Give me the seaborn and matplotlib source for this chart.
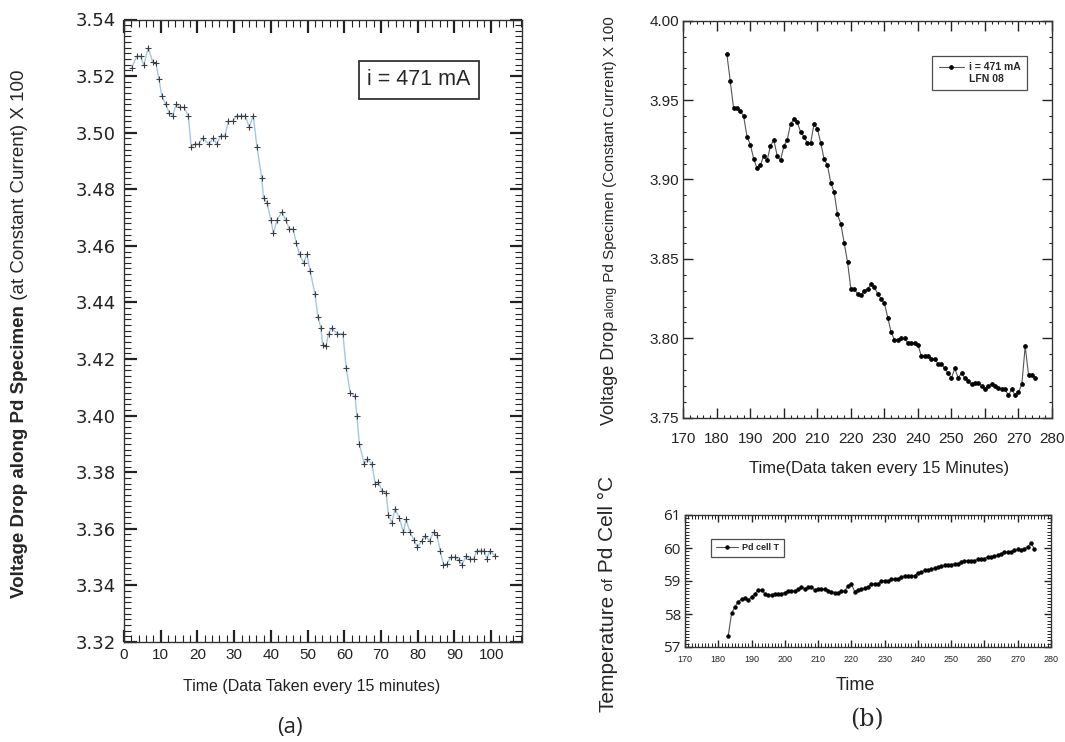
import matplotlib
matplotlib.use("Agg")
import matplotlib.pyplot as plt
from matplotlib.ticker import MultipleLocator, FormatStrFormatter
from matplotlib.lines import Line2D
import seaborn as sns

# ---- (a) voltage drop, run 1 ----
time_a = [2.1, 3.5, 4.5, 5.4, 6.6, 7.8, 8.7, 9.5, 10.3, 11.4,
          12.3, 13.3, 14.2, 15.3, 16.3, 17.5, 18.3, 19.3, 20.3, 21.4,
          23.2, 24.2, 25.3, 26.3, 27.5, 28.4, 29.6, 30.7, 31.8, 33.0,
          34.1, 35.2, 36.2, 37.5, 38.0, 39.0, 40.0, 40.7, 41.6, 43.0,
          44.1, 45.0, 46.1, 46.9, 47.8, 48.9, 49.8, 50.7, 52.0, 52.8,
          53.6, 54.1, 55.0, 55.7, 56.6, 58.0, 59.6, 60.5, 61.6, 62.9,
          63.4, 64.1, 65.4, 66.3, 67.5, 68.4, 69.3, 70.2, 71.4, 72.0,
          72.9, 73.8, 75.0, 76.1, 76.8, 77.9, 79.0, 79.9, 81.1, 82.0,
          83.2, 84.3, 85.2, 86.1, 87.0, 87.9, 89.0, 90.2, 91.1, 92.0,
          93.2, 94.3, 95.2, 96.1, 97.2, 98.1, 98.8, 99.7, 101.1]
volt_a = [3.523, 3.527, 3.527, 3.524, 3.530, 3.525, 3.5245, 3.519, 3.513, 3.510,
          3.507, 3.506, 3.510, 3.509, 3.509, 3.506, 3.495, 3.496, 3.496, 3.498,
          3.496, 3.498, 3.496, 3.499, 3.499, 3.504, 3.504, 3.506, 3.506, 3.506,
          3.502, 3.506, 3.495, 3.484, 3.477, 3.475, 3.469, 3.4645, 3.469, 3.472,
          3.469, 3.466, 3.466, 3.461, 3.457, 3.454, 3.457, 3.451, 3.443, 3.435,
          3.431, 3.425, 3.4246, 3.429, 3.431, 3.429, 3.429, 3.417, 3.408, 3.407,
          3.400, 3.390, 3.383, 3.3845, 3.383, 3.376, 3.3767, 3.3735, 3.3726, 3.365,
          3.362, 3.367, 3.3638, 3.3587, 3.3634, 3.3587, 3.356, 3.3535, 3.3558, 3.3575,
          3.3558, 3.3587, 3.3578, 3.3523, 3.3473, 3.3476, 3.350, 3.350, 3.3491, 3.3473,
          3.3503, 3.3494, 3.3494, 3.3523, 3.3523, 3.3523, 3.3494, 3.3523, 3.3503]

# ---- (b) voltage drop and cell temperature, LFN 08 ----
time_b = list(range(183, 276))
volt_b = [3.979, 3.962, 3.945, 3.945, 3.943, 3.940, 3.927, 3.922, 3.913, 3.907,
          3.909, 3.915, 3.912, 3.921, 3.925, 3.915, 3.912, 3.921, 3.925, 3.935,
          3.938, 3.936, 3.930, 3.927, 3.923, 3.923, 3.935, 3.932, 3.923, 3.913,
          3.909, 3.898, 3.892, 3.878, 3.872, 3.860, 3.848, 3.831, 3.831, 3.828,
          3.827, 3.830, 3.831, 3.834, 3.832, 3.828, 3.825, 3.822, 3.813, 3.804,
          3.799, 3.799, 3.800, 3.800, 3.797, 3.797, 3.797, 3.796, 3.789, 3.789,
          3.789, 3.787, 3.787, 3.784, 3.784, 3.781, 3.778, 3.775, 3.781, 3.775,
          3.778, 3.775, 3.773, 3.771, 3.772, 3.772, 3.770, 3.768, 3.770, 3.771,
          3.770, 3.769, 3.768, 3.768, 3.764, 3.768, 3.764, 3.766, 3.771, 3.795,
          3.777, 3.777, 3.775]
temp_b = [57.34, 58.02, 58.22, 58.37, 58.45, 58.48, 58.41, 58.53, 58.62, 58.72,
          58.72, 58.62, 58.57, 58.57, 58.62, 58.62, 58.62, 58.65, 58.70, 58.70,
          58.70, 58.75, 58.82, 58.77, 58.82, 58.82, 58.72, 58.75, 58.75, 58.75,
          58.70, 58.68, 58.65, 58.65, 58.70, 58.70, 58.86, 58.91, 58.68, 58.74,
          58.75, 58.78, 58.81, 58.91, 58.91, 58.91, 59.01, 59.01, 58.99, 59.06,
          59.06, 59.06, 59.11, 59.16, 59.16, 59.16, 59.16, 59.25, 59.27, 59.32,
          59.32, 59.37, 59.39, 59.42, 59.44, 59.47, 59.50, 59.50, 59.52, 59.52,
          59.57, 59.62, 59.62, 59.62, 59.62, 59.66, 59.68, 59.68, 59.73, 59.73,
          59.76, 59.78, 59.83, 59.88, 59.88, 59.88, 59.93, 59.96, 59.93, 59.98,
          60.04, 60.14, 59.98]

W, H = 1065, 742


def px_rect(left, top, right, bottom):
    return [left / W, 1 - bottom / H, (right - left) / W, (bottom - top) / H]


def vertical_label(fig, x_px, y_px, parts):
    # chain rotated text pieces bottom-to-top on a common baseline
    renderer = fig.canvas.get_renderer()
    x = x_px / W
    y = 1 - y_px / H
    for txt, kw in parts:
        t = fig.text(x, y, txt, rotation=90, rotation_mode="anchor",
                     ha="left", va="baseline", **kw)
        bb = t.get_window_extent(renderer)
        y += bb.height / fig.bbox.height


sns.set_style("ticks")
plt.rcParams["font.family"] = ["Liberation Sans", "DejaVu Sans"]

fig = plt.figure(figsize=(W / 100, H / 100), dpi=100)

# ---------------- (a) ----------------
ax1 = fig.add_axes(px_rect(124, 19.5, 521.7, 642))
sns.lineplot(x=time_a, y=volt_a, ax=ax1, color="#a3c6e8", lw=1.0,
             marker="+", markersize=5, markeredgecolor="#3c3c3c",
             markeredgewidth=0.8, estimator=None, sort=False)
ax1.set_xlim(0, 108.3)
ax1.set_ylim(3.32, 3.54)
ax1.xaxis.set_major_locator(MultipleLocator(10))
ax1.xaxis.set_minor_locator(MultipleLocator(2))
ax1.yaxis.set_major_locator(MultipleLocator(0.02))
ax1.yaxis.set_minor_locator(MultipleLocator(0.002))
ax1.yaxis.set_major_formatter(FormatStrFormatter("%.2f"))
ax1.tick_params(which="both", direction="in", top=True, right=True, colors="#222")
ax1.tick_params(which="major", length=9, width=1.6)
ax1.tick_params(which="minor", length=5, width=0.8)
ax1.tick_params(axis="y", labelsize=13, pad=6)
ax1.tick_params(axis="x", labelsize=11, pad=4)
for lab in ax1.get_yticklabels():
    lab.set_family("DejaVu Sans")
for sp in ax1.spines.values():
    sp.set_linewidth(1.0)
    sp.set_color("#333")
ax1.set_xlabel("")
ax1.set_ylabel("")
ax1.text(0.742, 0.903, "i = 471 mA", transform=ax1.transAxes, fontsize=15.5,
         ha="center", va="center",
         bbox=dict(boxstyle="square,pad=0.4", fc="white", ec="#333", lw=1.3))
fig.text(312 / W, 1 - 686 / H, "Time (Data Taken every 15 minutes)",
         fontsize=11.5, ha="center", va="center", color="#222")
narrow = ["Liberation Sans Narrow", "Liberation Sans"]
vertical_label(fig, 24, 598, [
    ("Voltage Drop along Pd Specimen",
     dict(fontsize=13.5, fontweight="bold", family=narrow)),
    (" (at Constant Current) X 100", dict(fontsize=13.5, family=narrow)),
])
fig.text(290 / W, 1 - 727 / H, "(a)", fontsize=16, ha="center", va="center",
         family=["Open Sans", "DejaVu Sans"])

# ---------------- (b) top ----------------
ax2 = fig.add_axes(px_rect(683.3, 20.7, 1052, 417.7))
sns.lineplot(x=time_b, y=volt_b, ax=ax2, color="#555", lw=0.8,
             marker="o", markersize=2.6, markerfacecolor="black",
             markeredgecolor="black", estimator=None, sort=False,
             label="i = 471 mA")
ax2.set_xlim(170, 280)
ax2.set_ylim(3.75, 4.00)
ax2.xaxis.set_major_locator(MultipleLocator(10))
ax2.xaxis.set_minor_locator(MultipleLocator(2))
ax2.yaxis.set_major_locator(MultipleLocator(0.05))
ax2.yaxis.set_minor_locator(MultipleLocator(0.01))
ax2.yaxis.set_major_formatter(FormatStrFormatter("%.2f"))
ax2.tick_params(which="both", direction="in", top=True, right=True, colors="#222")
ax2.tick_params(which="major", length=7, width=1.0)
ax2.tick_params(which="minor", length=2, width=0.8)
ax2.tick_params(axis="both", labelsize=11)
ax2.tick_params(axis="y", pad=3)
ax2.tick_params(axis="x", pad=10)
for sp in ax2.spines.values():
    sp.set_linewidth(1.0)
    sp.set_color("#333")
ax2.set_xlabel("")
ax2.set_ylabel("")
h2 = ax2.get_lines()[0]
leg2 = ax2.legend([h2, Line2D([], [], color="none")], ["i = 471 mA", "LFN 08"],
                  loc="upper right", bbox_to_anchor=(0.946, 0.924),
                  prop=dict(size=7.5, weight="bold"), frameon=True, fancybox=False,
                  edgecolor="#222", handlelength=2.4, labelspacing=0.15,
                  borderpad=0.6, handletextpad=0.5)
leg2.get_frame().set_linewidth(0.9)
fig.text(879 / W, 1 - 468 / H, "Time(Data taken every 15 Minutes)",
         fontsize=12, ha="center", va="center", color="#222")
vertical_label(fig, 614, 425, [
    ("Voltage Drop", dict(fontsize=13)),
    (" along", dict(fontsize=9)),
    (" Pd Specimen (Constant Current) X 100", dict(fontsize=11)),
])

# ---------------- (b) bottom ----------------
ax3 = fig.add_axes(px_rect(685, 515, 1051, 647))
sns.lineplot(x=time_b, y=temp_b, ax=ax3, color="#555", lw=0.8,
             marker="o", markersize=2.4, markerfacecolor="black",
             markeredgecolor="black", estimator=None, sort=False,
             label="Pd cell T")
ax3.set_xlim(170, 280)
ax3.set_ylim(57, 61)
ax3.xaxis.set_major_locator(MultipleLocator(10))
ax3.xaxis.set_minor_locator(MultipleLocator(1))
ax3.yaxis.set_major_locator(MultipleLocator(1))
ax3.yaxis.set_minor_locator(MultipleLocator(0.1))
ax3.tick_params(which="both", direction="in", top=True, right=True, colors="#222")
ax3.tick_params(which="major", length=5, width=1.0)
ax3.tick_params(which="minor", length=3, width=0.7)
ax3.tick_params(axis="y", labelsize=11, pad=3)
ax3.tick_params(axis="x", labelsize=6.5, pad=6)
for lab in ax3.get_yticklabels():
    lab.set_family(["Open Sans", "DejaVu Sans"])
for sp in ax3.spines.values():
    sp.set_linewidth(1.0)
    sp.set_color("#333")
ax3.set_xlabel("")
ax3.set_ylabel("")
leg3 = ax3.legend(loc="upper left", bbox_to_anchor=(0.06, 0.856),
                  prop=dict(size=6.5, weight="bold"), frameon=True, fancybox=False,
                  edgecolor="#222", handlelength=2.4, borderpad=0.5,
                  handletextpad=0.5)
leg3.get_frame().set_linewidth(0.9)
fig.text(855 / W, 1 - 686 / H, "Time", fontsize=13, ha="center", va="center",
         color="#222")
vertical_label(fig, 613, 712, [
    ("Temperature", dict(fontsize=15)),
    (" of", dict(fontsize=11)),
    (" Pd Cell \u00b0C", dict(fontsize=15)),
])
fig.text(867 / W, 1 - 720 / H, "(b)", fontsize=17, ha="center", va="center",
         family=["DejaVu Serif"])

fig.savefig("out.png", dpi=100)
